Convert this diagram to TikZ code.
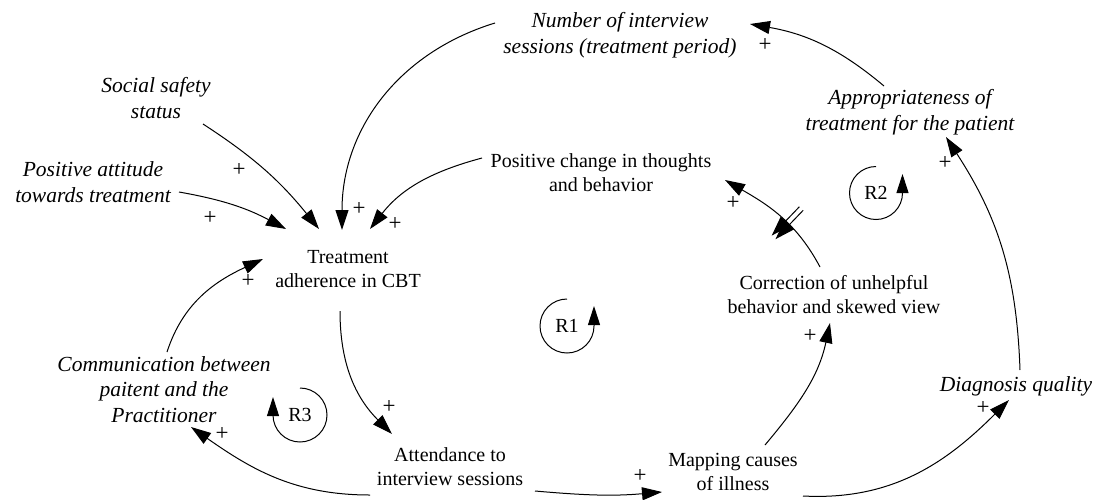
\documentclass[tikz,border=0pt]{standalone}
\usepackage{fontspec}
\setmainfont{Liberation Serif}
\usetikzlibrary{arrows.meta,decorations.markings}
\begin{document}
\begin{tikzpicture}[x=1pt,y=1pt,
  var/.style={inner sep=0pt, align=center, anchor=base},
  up/.style={var, font=\fontsize{20}{24}\selectfont},
  it/.style={var, font=\fontsize{21.5}{25.5}\selectfont\itshape},
  lbl/.style={inner sep=0pt, font=\fontsize{20}{24}\selectfont},
  sgn/.style={inner sep=0pt, font=\fontsize{23}{27}\selectfont},
  lnk/.style={line width=1pt, -{Triangle[length=20pt,width=13pt]}},
  loopmark/.style={line width=1pt, -{Triangle[length=19pt,width=12pt]}},
  delaymark/.style={postaction={decorate}, decoration={markings, mark=at position 0.42 with {\draw[line width=1pt] (-2.6pt,-20pt)--(-2.6pt,20pt); \draw[line width=1pt] (2.6pt,-20pt)--(2.6pt,20pt);}}}
]
\useasboundingbox (0,0) rectangle (1096,-499);

% variables (positioned at the baseline of their last line)
\node[it] (num) at (620,-53) {Number of interview\\sessions (treatment period)};
\node[it] (soc) at (156,-118) {Social safety\\status};
\node[it] (att) at (93,-202) {Positive attitude\\towards treatment};
\node[up] (pch) at (601,-191) {Positive change in thoughts\\and behavior};
\node[it] (app) at (910,-130) {Appropriateness of\\treatment for the patient};
\node[up] (tac) at (348,-287) {Treatment\\adherence in CBT};
\node[up] (cor) at (834,-313) {Correction of unhelpful\\behavior and skewed view};
\node[it] (com) at (164,-422) {Communication between\\paitent and the\\Practitioner};
\node[it] (dia) at (1016,-391) {Diagnosis quality};
\node[up] (ats) at (450,-485) {Attendance to\\interview sessions};
\node[up] (mci) at (733,-490) {Mapping causes\\of illness};

% links
\draw[lnk] ([shift={(-125,30)}]num.base) to[out=197,in=90] ([shift={(-6,57)}]tac.base);
\draw[lnk] ([shift={(47,-6)}]soc.base) to[out=-33,in=129] ([shift={(-29,58)}]tac.base);
\draw[lnk] ([shift={(86,10)}]att.base) to[out=-10,in=152] ([shift={(-62,58)}]tac.base);
\draw[lnk] ([shift={(-119,33)}]pch.base) to[out=195,in=52] ([shift={(22,58)}]tac.base);
\draw[lnk] ([shift={(-8,-24)}]tac.base) to[out=-90,in=135] ([shift={(-58,51)}]ats.base);
\draw[lnk] ([shift={(-80,-10)}]ats.base) to[out=180,in=-35] ([shift={(27,-5)}]com.base);
\draw[lnk] ([shift={(3,70)}]com.base) to[out=72,in=205] ([shift={(-85,28)}]tac.base);
\draw[lnk] ([shift={(85,-6)}]ats.base) to[out=-5,in=185] ([shift={(-71,-2)}]mci.base);
\draw[lnk] ([shift={(32,45)}]mci.base) to[out=50,in=-102] ([shift={(-4,-10)}]cor.base);
\draw[lnk, delaymark] ([shift={(-14,46)}]cor.base) to[out=118,in=-30] ([shift={(124,11)}]pch.base);
\draw[lnk] ([shift={(70,-6)}]mci.base) to[out=-3,in=225] ([shift={(-7,-9)}]dia.base);
\draw[lnk] ([shift={(4,21)}]dia.base) to[out=92,in=-57] ([shift={(36,-7)}]app.base);
\draw[lnk] ([shift={(-26,44)}]app.base) to[out=140,in=-10] ([shift={(130,29)}]num.base);

% polarity signs
\node[sgn] (p1) at (359,-209) {+};
\node[sgn] (p2) at (239,-170) {+};
\node[sgn] (p3) at (210,-218) {+};
\node[sgn] (p4) at (395,-224) {+};
\node[sgn] (p5) at (389,-407) {+};
\node[sgn] (p6) at (222,-434) {+};
\node[sgn] (p7) at (248,-281) {+};
\node[sgn] (p8) at (640,-476) {+};
\node[sgn] (p9) at (810,-336) {+};
\node[sgn] (p10) at (733,-203) {+};
\node[sgn] (p11) at (983,-408) {+};
\node[sgn] (p12) at (945,-163) {+};
\node[sgn] (p13) at (765,-45) {+};

% loop markers
\node[lbl] (r1) at (567,-326) {R1};
\draw[loopmark] ([yshift=27pt]r1.center) arc[start angle=90,end angle=360,radius=27] -- ++(0,20);
\node[lbl] (r2) at (876,-193) {R2};
\draw[loopmark] ([yshift=26.5pt]r2.center) arc[start angle=90,end angle=360,radius=26.5] -- ++(0,19);
\node[lbl] (r3) at (300,-415) {R3};
\draw[loopmark] ([yshift=27pt]r3.center) arc[start angle=90,end angle=-180,radius=27] -- ++(0,18);
\end{tikzpicture}
\end{document}
